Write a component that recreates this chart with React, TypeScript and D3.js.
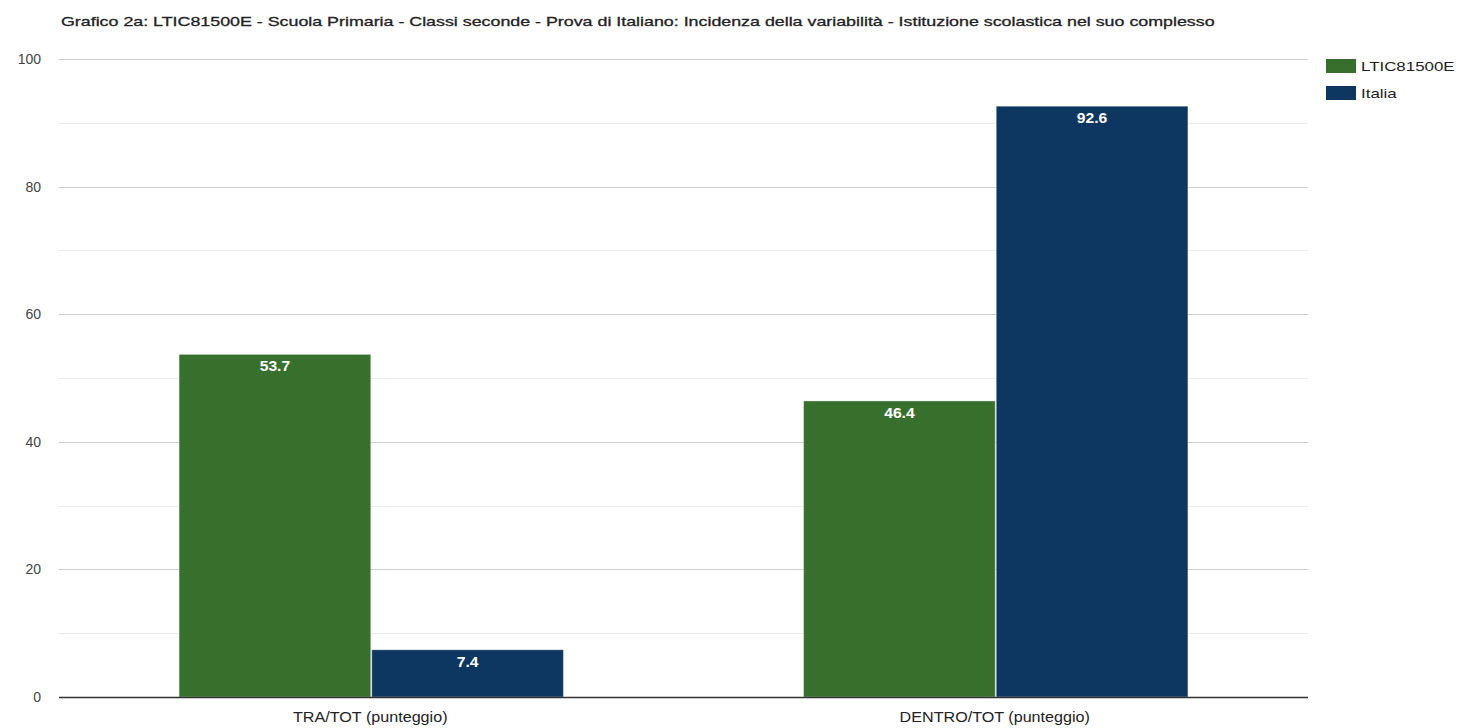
import React from "react";
import * as d3 from "d3";

const title =
  "Grafico 2a: LTIC81500E - Scuola Primaria - Classi seconde - Prova di Italiano: Incidenza della variabilità - Istituzione scolastica nel suo complesso";
const categories = ["TRA/TOT (punteggio)", "DENTRO/TOT (punteggio)"];
const seriesNames = ["LTIC81500E", "Italia"];
const seriesColors = ["#37702d", "#0d3660"];
const schoolValues = [53.7, 46.4];
const italyValues = [7.4, 92.6];
const majorTicks = [0, 20, 40, 60, 80, 100];
const minorTicks = [10, 30, 50, 70, 90];

const W = 1460;
const H = 728;
const left = 59;
const right = 1308;
const top = 59;
const bottom = 697;
const font = "Arial, 'Liberation Sans', sans-serif";
// horizontal stretch observed in the reference rendering
const stretch = 1.3;

function measure(s: string, size: number, weight = "normal") {
  if (typeof document === "undefined") return s.length * size * 0.5;
  const c = document.createElement("canvas").getContext("2d")!;
  c.font = `${weight} ${size}px Arial, 'Liberation Sans', sans-serif`;
  return c.measureText(s).width;
}

export default function App() {
  const y = d3.scaleLinear().domain([0, 100]).range([bottom, top]);
  const x0 = d3.scaleBand<string>().domain(categories).range([left, right]).paddingInner(0).paddingOuter(0);
  const groupW = x0.bandwidth() * 0.617;
  const x1 = d3.scaleBand<number>().domain([0, 1]).range([0, groupW]);
  const series = [schoolValues, italyValues];

  return (
    <svg width={W} height={H} style={{ position: "absolute", left: 0, top: 0, background: "#fff" }} fontFamily={font}>
      <rect width={W} height={H} fill="#fff" />
      <text x={61} y={26} fontSize={13.5} fill="#222" stroke="#222" strokeWidth={0.3}
        textLength={measure(title, 13.5) * 1.32} lengthAdjust="spacingAndGlyphs">{title}</text>
      {minorTicks.map((t) => (
        <line key={"m" + t} x1={left} x2={right} y1={Math.round(y(t)) + 0.5} y2={Math.round(y(t)) + 0.5} stroke="#ebebeb" />
      ))}
      {majorTicks.filter((t) => t !== 0).map((t) => (
        <line key={"M" + t} x1={left} x2={right} y1={Math.round(y(t)) + 0.5} y2={Math.round(y(t)) + 0.5} stroke="#cccccc" />
      ))}
      {majorTicks.map((t) => (
        <text key={"t" + t} x={41} y={y(t) + 5} fontSize={14} fill="#444" textAnchor="end">{t}</text>
      ))}
      {categories.map((c, ci) => {
        const gx = (x0(c) as number) + (x0.bandwidth() - groupW) / 2;
        return (
          <g key={c}>
            {series.map((vals, si) => {
              const bx = gx + (x1(si) as number);
              const by = y(vals[ci]);
              const lbl = String(vals[ci]);
              return (
                <g key={si}>
                  <rect x={bx + 0.5} y={by} width={x1.bandwidth() - 1} height={bottom - by} fill={seriesColors[si]} stroke="#ffffff" strokeOpacity={0.35} strokeWidth={1} />
                  <text x={bx + x1.bandwidth() / 2} y={by + 17} fontSize={14} fontWeight="bold" fill="#fff" textAnchor="middle"
                    textLength={measure(lbl, 14, "bold") * 1.12} lengthAdjust="spacingAndGlyphs">{lbl}</text>
                </g>
              );
            })}
            <text x={(x0(c) as number) + x0.bandwidth() / 2 - 1} y={722} fontSize={14} fill="#222" textAnchor="middle"
              textLength={measure(c, 14) * 1.15} lengthAdjust="spacingAndGlyphs">{c}</text>
          </g>
        );
      })}
      <line x1={left} x2={right} y1={bottom + 0.5} y2={bottom + 0.5} stroke="#333" strokeWidth={1.5} />
      {seriesNames.map((n, i) => (
        <g key={n}>
          <rect x={1326} y={59 + i * 27} width={30} height={14} fill={seriesColors[i]} />
          <text x={1361} y={71 + i * 27} fontSize={13} fill="#222"
            textLength={measure(n, 13) * 1.3} lengthAdjust="spacingAndGlyphs">{n}</text>
        </g>
      ))}
    </svg>
  );
}
